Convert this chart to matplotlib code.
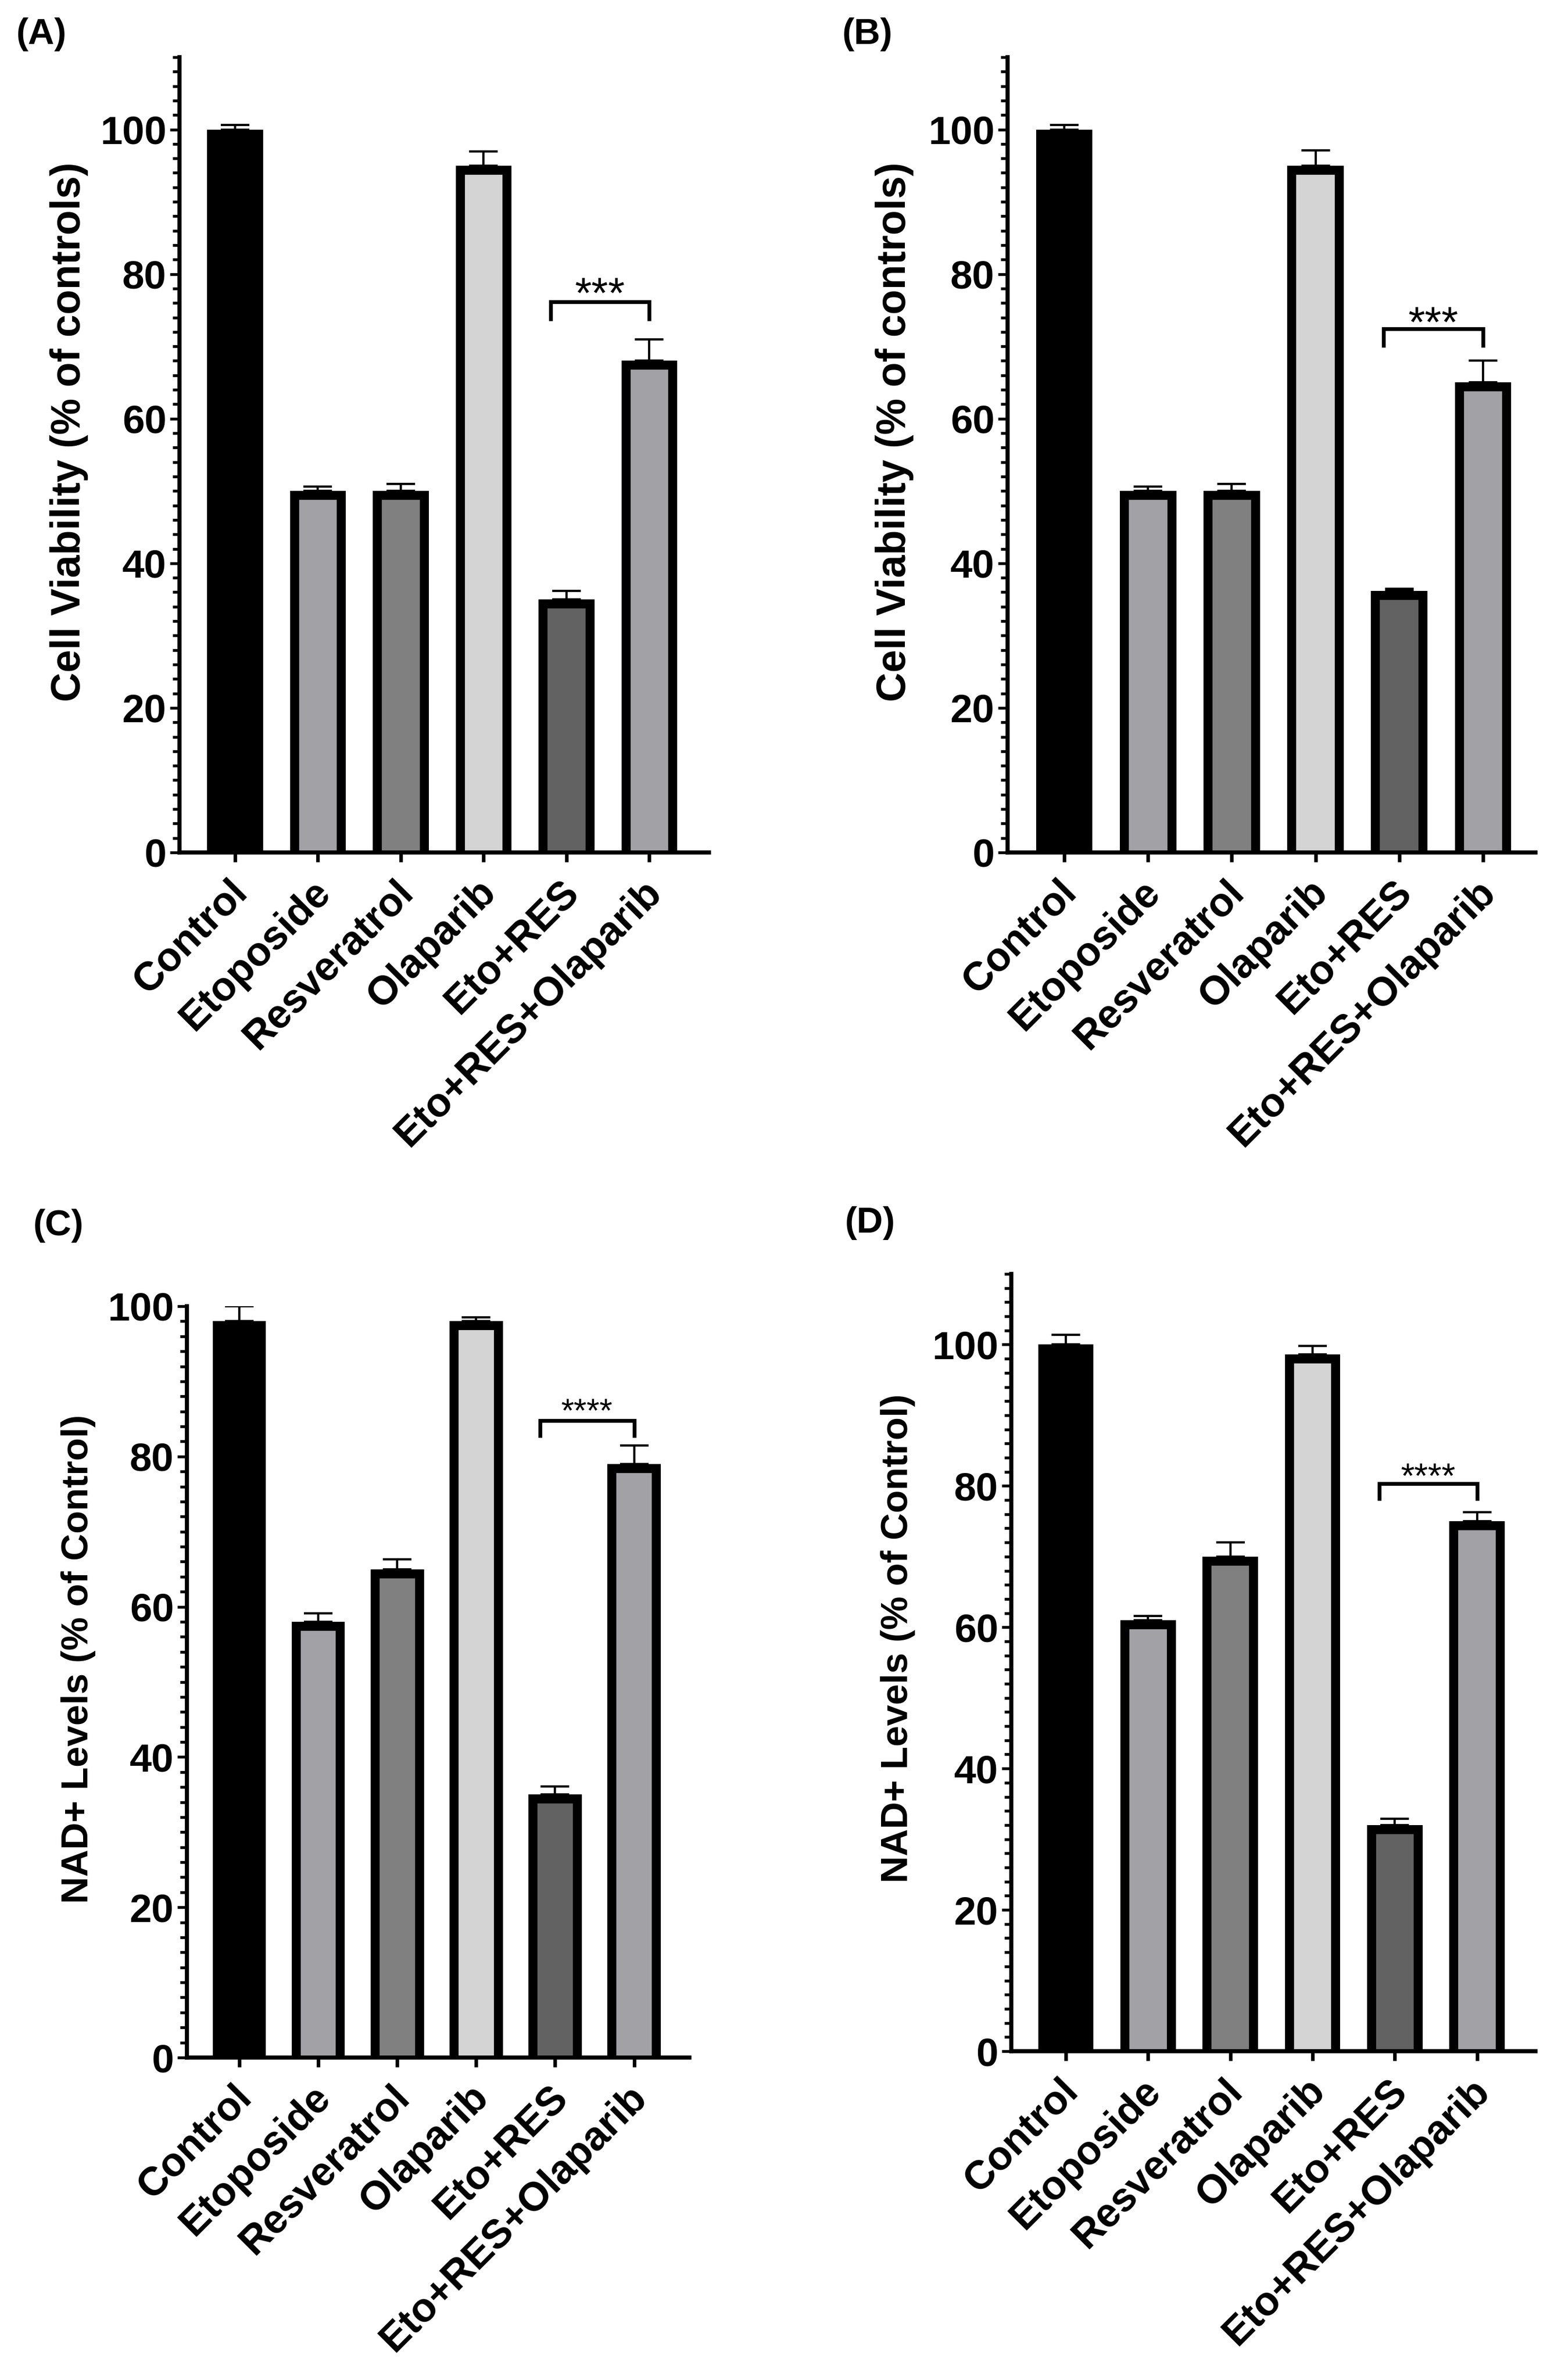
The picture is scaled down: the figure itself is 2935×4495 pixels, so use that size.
import matplotlib
matplotlib.use('Agg')
import matplotlib.pyplot as plt
from matplotlib.ticker import MultipleLocator
from matplotlib.transforms import ScaledTranslation
from matplotlib.path import Path
from matplotlib.patches import PathPatch
import numpy as np

plt.rcParams['font.family'] = ['Liberation Sans', 'DejaVu Sans']

# ---------------- data ----------------
categories = ['Control', 'Etoposide', 'Resveratrol', 'Olaparib', 'Eto+RES', 'Eto+RES+Olaparib']
bar_colors = ['#000000', '#a2a1a6', '#808080', '#d4d4d4', '#626262', '#a2a1a6']

viability_a = [100, 50, 50, 95, 35, 68]
viability_a_err = [0.6, 0.6, 1.0, 2.0, 1.2, 3.0]

viability_b = [100, 50, 50, 95, 36.2, 65]
viability_b_err = [0.6, 0.6, 1.0, 2.1, 0.3, 3.0]

nad_c = [98, 58, 65, 98, 35, 79]
nad_c_err = [2.0, 1.1, 1.3, 0.5, 1.1, 2.5]

nad_d = [100, 61, 70, 98.6, 32, 75]
nad_d_err = [1.4, 0.6, 2.0, 1.2, 0.9, 1.3]

# significance: stars, bracket level, leg bottom, star centre
sig_a = ('***', 76.2, 73.5, 78.9)
sig_b = ('***', 72.4, 69.9, 74.9)
sig_c = ('****', 84.8, 82.5, 87.2)
sig_d = ('****', 80.3, 77.9, 82.7)

ylabel_viab = 'Cell Viability (% of controls)'
ylabel_nad = 'NAD+ Levels (% of Control)'

# ---------------- layout ----------------
W, H = 2935, 4495
DPI = 300
fig = plt.figure(figsize=(W / DPI, H / DPI), dpi=DPI)

panels = [
    dict(tag='(A)', vals=viability_a, err=viability_a_err, sig=sig_a, ylabel=ylabel_viab,
         rect=(339, 1339, 108, 1610), xlim=(-0.67, 5.72), ymax=110,
         tagpos=(31, 33), ylpos=(131, 816), ylfs=18.5, starfs=19.5),
    dict(tag='(B)', vals=viability_b, err=viability_b_err, sig=sig_b, ylabel=ylabel_viab,
         rect=(1903, 2900, 108, 1610), xlim=(-0.676, 5.626), ymax=110,
         tagpos=(1591, 33), ylpos=(1690, 816), ylfs=18.5, starfs=19.5),
    dict(tag='(C)', vals=nad_c, err=nad_c_err, sig=sig_c, ylabel=ylabel_nad,
         rect=(353, 1302, 2467, 3886), xlim=(-0.664, 5.70), ymax=100,
         tagpos=(63, 2283), ylpos=(148, 3133), ylfs=17, starfs=15),
    dict(tag='(D)', vals=nad_d, err=nad_d_err, sig=sig_d, ylabel=ylabel_nad,
         rect=(1910, 2900, 2406, 3874), xlim=(-0.663, 5.71), ymax=110,
         tagpos=(1596, 2278), ylpos=(1696, 3094), ylfs=17, starfs=16),
]

x = np.arange(len(categories))
edge_lw = 8.2  # doubled, outer half clipped away -> inner border

for p in panels:
    L, R, T, B = p['rect']
    ax = fig.add_axes([L / W, 1 - B / H, (R - L) / W, (B - T) / H])
    vals = np.array(p['vals'])
    err = np.array(p['err'])

    ax.errorbar(x, vals, yerr=[np.zeros_like(err), err], fmt='none', ecolor='black',
                elinewidth=1.03, capsize=6.5, capthick=1.03, zorder=2)
    bars = ax.bar(x, vals, width=0.675, color=bar_colors, linewidth=0, zorder=3)
    for b in bars:
        bx, by = b.get_x(), b.get_y()
        bw, bh = b.get_width(), b.get_height()
        outline = Path([(bx, by), (bx, by + bh), (bx + bw, by + bh), (bx + bw, by)])
        pp = PathPatch(outline, fill=False, edgecolor='black', linewidth=edge_lw,
                       joinstyle='miter', capstyle='butt', zorder=3.1)
        ax.add_patch(pp)
        pp.set_clip_path(b)

    stars, ylev, yleg, ystar = p['sig']
    x0, x1 = x[4] - 0.19, x[5]
    ax.plot([x0, x0, x1, x1], [yleg, ylev, ylev, yleg], color='black', lw=1.75,
            solid_joinstyle='miter', solid_capstyle='butt', zorder=4)
    fs = p['starfs']
    ax.annotate(stars, xy=((x0 + x1) / 2, ystar), xytext=(0, -0.585 * fs),
                textcoords='offset points', ha='center', va='baseline', fontsize=fs)

    ax.set_xlim(*p['xlim'])
    ax.set_ylim(0, p['ymax'])
    for s in ['top', 'right']:
        ax.spines[s].set_visible(False)
    for s in ['left', 'bottom']:
        ax.spines[s].set_linewidth(1.85)
        ax.spines[s].set_zorder(5)
        ax.spines[s].set_capstyle('projecting')

    ax.set_yticks(np.arange(0, 101, 20), labels=[str(v) for v in range(0, 101, 20)],
                  fontsize=18, fontweight='bold')
    ax.yaxis.set_minor_locator(MultipleLocator(2))
    ax.tick_params(axis='y', which='major', length=4.3, width=1.3, pad=1.6)
    ax.tick_params(axis='y', which='minor', length=3.1, width=1.3)
    ax.set_xticks(x, labels=categories, rotation=45, ha='right', va='top',
                  rotation_mode='anchor', fontsize=18.3, fontweight='bold')
    ax.tick_params(axis='x', which='major', length=4.3, width=1.6, pad=5)
    ax.tick_params(axis='x', which='minor', bottom=False)
    off = ScaledTranslation(-3 / 72, 0, fig.dpi_scale_trans)
    for lbl in ax.get_xticklabels():
        lbl.set_transform(lbl.get_transform() + off)

    tx, ty = p['tagpos']
    fig.text(tx / W, 1 - ty / H, p['tag'], ha='left', va='top', fontsize=16.5,
             fontweight='bold')
    lx, ly = p['ylpos']
    fig.text(lx / W, 1 - ly / H, p['ylabel'], rotation=90, ha='center', va='center',
             fontsize=p['ylfs'], fontweight='bold')

fig.savefig('out.png', dpi=DPI, facecolor='white')
